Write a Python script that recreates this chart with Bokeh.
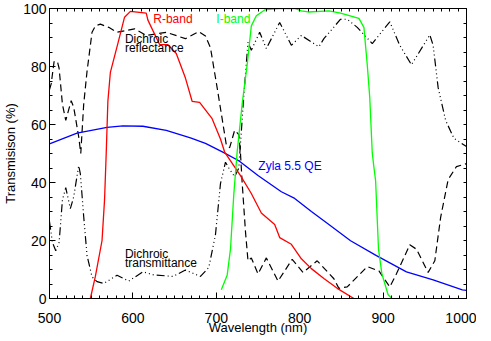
from bokeh.plotting import figure
from bokeh.models import LinearAxis, Range1d, FixedTicker, Label
from bokeh.embed import file_html
from bokeh.resources import INLINE

# ---- data ----
r_band_x = [549, 555, 563, 566, 568, 570, 573, 582, 590, 597, 616, 618, 632, 642, 652, 663,
            671, 680, 695, 705, 710, 729, 742, 754, 770, 776, 790, 802, 814, 829, 845, 865]
r_band_y = [0, 7.6, 20, 34, 50, 68, 78, 88, 97, 99, 98.4, 96, 87.6, 87.5, 84.5, 76,
            68, 67.6, 62, 55, 50.5, 42.4, 36.2, 29.5, 25.5, 21, 18.7, 13.7, 10.3, 6.9, 3.5, 0]

i_band_x = [706, 713, 717, 721, 725, 731, 737, 742, 748, 758, 774, 794, 802, 810, 835, 849,
            871, 877, 881, 884, 887, 889, 891, 894.5, 898.5, 906, 910]
i_band_y = [3, 8, 17, 36, 50.5, 67, 80.6, 94, 97.5, 99.5, 100, 100, 99.2, 98.8, 99.2, 98.4,
            96.6, 93.5, 80.6, 69.3, 50.2, 45.2, 40.7, 17, 8.6, 1.3, 0.2]

qe_x = [500, 533, 569, 588, 612, 640, 669, 687, 709, 727, 750, 778, 794, 814, 835, 861,
        892, 928, 960, 995, 1000]
qe_y = [53.3, 57, 59, 59.5, 59.4, 58, 55.4, 53.5, 50.3, 47.5, 42.4, 36.8, 34.5, 30, 25.5, 19.9,
        14.8, 9.2, 6.4, 3, 2.8]

refl_x = [500, 502, 505.5, 509.5, 511.5, 515.5, 519.5, 526, 529, 535, 537.5, 541, 545, 551,
          555, 561, 571, 581, 602, 616, 640, 663, 679, 687, 693, 701, 707, 712, 716, 722,
          727, 729, 731, 735, 738, 742, 750, 760, 774, 791, 804, 821, 841, 847, 857, 881,
          895, 908, 916, 932, 940, 954, 962, 969, 978, 988, 1000]
refl_y = [72, 74, 81.7, 81.7, 79.4, 67, 61.4, 68.2, 66, 55.8, 50, 67, 78.3, 91.8,
          94, 94.6, 93.5, 91.8, 93, 90.7, 91.8, 89.6, 92, 90.5, 86.5, 72.7, 62, 53, 52, 58,
          56.5, 50, 40, 23, 13, 14, 8.5, 14, 6, 13.5, 9, 13, 6.8, 3.5, 4, 11,
          9.5, 4, 8.5, 18.5, 17, 9, 13, 28, 41, 45.5, 46.5]

trans_x = [500, 503.5, 507.5, 511.5, 515.5, 519.5, 525, 529, 535, 537, 541, 545, 551, 557,
           565, 581, 595, 612, 624, 648, 663, 681, 691, 699, 705, 711, 715, 722, 727, 733,
           738, 742, 752, 760, 776, 790, 802, 823, 829, 849, 857, 869, 887, 908, 920, 934,
           956, 960, 966, 975, 985, 1000]
trans_y = [26.5, 19.3, 16.5, 19.3, 34, 38.2, 31, 35, 45.8, 43, 28.3, 14.8, 7.5, 5.8,
           5.2, 8, 6, 9.2, 8.2, 7.6, 9.8, 7.6, 10.7, 22, 39.6, 47, 45, 42, 45, 70,
           88.4, 85.6, 91.8, 86.2, 95.2, 87.3, 90.7, 86.8, 89.6, 96.3, 96.3, 93.5, 87.9, 95.4, 87.3, 80.6,
           90.9, 87.3, 72.7, 61.4, 55.2, 52.4]

x_ticks = [500, 600, 700, 800, 900, 1000]
y_ticks = [0, 20, 40, 60, 80, 100]
x_minor = list(range(500, 1001, 10))
y_minor = list(range(0, 101, 5))

annotations = [
    ("R-band", 624.4, 96.5, "#ff0000"),
    ("I-band", 700.0, 96.5, "#00ff00"),
    ("Dichroic", 590.4, 89.6, "black"),
    ("reflectance", 590.4, 86.3, "black"),
    ("Dichroic", 590.4, 15.5, "black"),
    ("transmittance", 590.4, 12.2, "black"),
    ("Zyla 5.5 QE", 750.4, 45.8, "#0000ff"),
]

FONT = "Liberation Sans"

p = figure(width=476, height=337, output_backend="svg", toolbar_location=None,
           x_range=Range1d(500, 1000), y_range=Range1d(0, 100),
           min_border_left=44, min_border_right=10, min_border_top=8, min_border_bottom=39,
           x_axis_label="Wavelength (nm)", y_axis_label="Transmisison (%)")
p.grid.visible = False
p.outline_line_color = "black"
p.outline_line_width = 1
p.background_fill_color = "white"
p.border_fill_color = "white"

def style_axis(ax):
    ax.major_tick_in = 6
    ax.major_tick_out = 0
    ax.minor_tick_in = 3
    ax.minor_tick_out = 0
    ax.axis_line_color = "black"
    ax.major_tick_line_color = "black"
    ax.minor_tick_line_color = "black"

xa = p.xaxis[0]
ya = p.yaxis[0]
for ax, ticks, minor in ((xa, x_ticks, x_minor), (ya, y_ticks, y_minor)):
    ax.ticker = FixedTicker(ticks=ticks, minor_ticks=minor)
    style_axis(ax)
    ax.major_label_text_font = FONT
    ax.major_label_text_font_size = "14px"
    ax.major_label_text_color = "black"
    ax.axis_label_text_font = FONT
    ax.axis_label_text_font_size = "13px"
    ax.axis_label_text_font_style = "normal"
    ax.axis_label_text_color = "black"
xa.major_label_standoff = 14
xa.axis_label_standoff = -6
ya.major_label_standoff = 3
ya.axis_label_standoff = 2

# top and right axes: ticks only (no labels)
top = LinearAxis(ticker=FixedTicker(ticks=[], minor_ticks=x_minor), axis_label=None)
right = LinearAxis(ticker=FixedTicker(ticks=[], minor_ticks=y_minor), axis_label=None)
for ax in (top, right):
    style_axis(ax)
    ax.major_label_standoff = 0
p.add_layout(top, "above")
p.add_layout(right, "right")

p.line(refl_x, refl_y, line_color="black", line_width=1.2, line_dash="7 4")
p.line(trans_x, trans_y, line_color="black", line_width=1.2, line_dash="8 3 1 3 1 3 1 3")
p.line(qe_x, qe_y, line_color="#0000ff", line_width=1.3)
p.line(r_band_x, r_band_y, line_color="#ff0000", line_width=1.3)
p.line(i_band_x, i_band_y, line_color="#00ff00", line_width=1.3)

for txt, x, y, c in annotations:
    p.add_layout(Label(x=x, y=y, text=txt, text_color=c, text_font=FONT,
                       text_font_size="12px", text_baseline="middle", text_align="left"))

open("out.html", "w").write(file_html(p, INLINE))
